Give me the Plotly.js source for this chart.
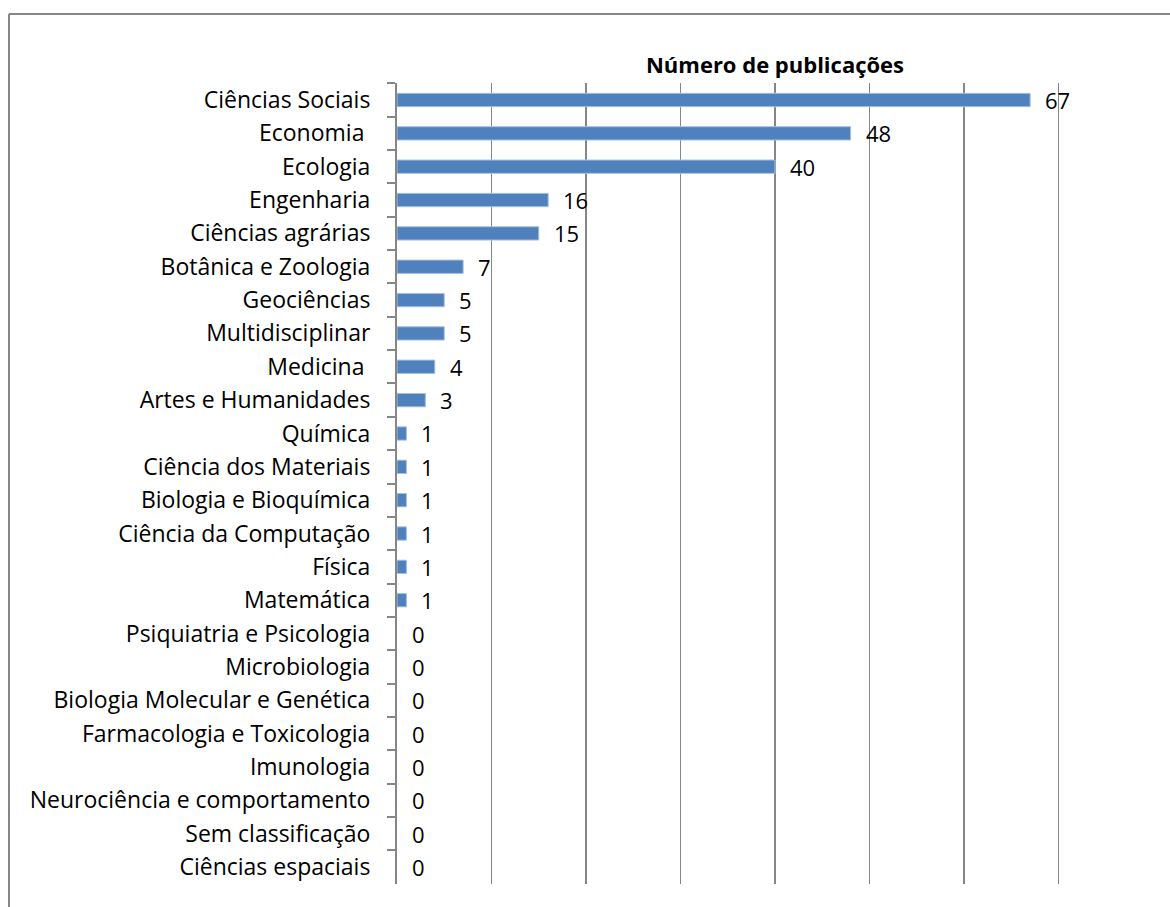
<!DOCTYPE html>
<html>
<head>
<meta charset="utf-8">
<script src="https://cdn.plot.ly/plotly-3.0.1.min.js"></script>
<style>
  html, body { margin: 0; padding: 0; background: #fff; }
  #chart { width: 1170px; height: 907px; }
</style>
</head>
<body>
<div id="chart"></div>
<script>
// Publicações por área do conhecimento
const categories = [
  "Ciências Sociais",
  "Economia\u00a0",
  "Ecologia",
  "Engenharia",
  "Ciências agrárias",
  "Botânica e Zoologia",
  "Geociências",
  "Multidisciplinar",
  "Medicina\u00a0",
  "Artes e Humanidades",
  "Química",
  "Ciência dos Materiais",
  "Biologia e Bioquímica",
  "Ciência da Computação",
  "Física",
  "Matemática",
  "Psiquiatria e Psicologia",
  "Microbiologia",
  "Biologia Molecular e Genética",
  "Farmacologia e Toxicologia",
  "Imunologia",
  "Neurociência e comportamento",
  "Sem classificação",
  "Ciências espaciais"
];
const publicacoes = [67, 48, 40, 16, 15, 7, 5, 5, 4, 3, 1, 1, 1, 1, 1, 1, 0, 0, 0, 0, 0, 0, 0, 0];
const chartTitle = "Número de publicações";

const FONT = "'Open Sans', Lato, sans-serif";
const GRID = "#868686";

// plot area in pixels
const W = 1170, H = 907;
const L = 397, R = 1153, T = 83, B = 884;
const pw = R - L, ph = B - T;
const px = v => (v - L) / pw;
const py = v => (B - v) / ph;

const trace = {
  type: "bar",
  orientation: "h",
  x: publicacoes,
  y: categories,
  marker: {
    color: "#4F81BD",
    // light edge only on non-empty bars
    line: { color: "#A9C1E0", width: publicacoes.map(v => (v > 0 ? 1 : 0)) }
  },
  hoverinfo: "x+y"
};

// value labels next to each bar
const labels = publicacoes.map((v, i) => ({
  x: v, y: categories[i], xref: "x", yref: "y",
  text: String(v), showarrow: false,
  xanchor: "left", yanchor: "middle", xshift: 13,
  font: { family: FONT, size: 22, color: "#000" }
}));

const layout = {
  width: W, height: H,
  margin: { l: L, r: W - R, t: T, b: H - B, pad: 0 },
  paper_bgcolor: "#fff", plot_bgcolor: "#fff",
  showlegend: false,
  bargap: 0.6,
  title: {
    text: "<b>" + chartTitle + "</b>",
    x: 0.5, xref: "paper", xanchor: "center",
    y: 1 - 65 / H, yref: "container", yanchor: "middle",
    font: { family: FONT, size: 22, color: "#000" }
  },
  xaxis: {
    range: [0, 80], dtick: 10, tick0: 0,
    showgrid: true, gridcolor: GRID, gridwidth: 1.8,
    showticklabels: false, ticks: "", zeroline: false, showline: false,
    fixedrange: true
  },
  yaxis: {
    autorange: "reversed",
    type: "category",
    tickson: "boundaries",
    ticks: "outside", ticklen: 8, tickwidth: 2, tickcolor: GRID,
    showline: true, linecolor: GRID, linewidth: 2,
    showgrid: false, zeroline: false,
    ticklabelstandoff: 20,
    tickfont: { family: FONT, size: 23, color: "#000" },
    fixedrange: true
  },
  annotations: labels,
  shapes: [
    // outer frame, top and left edges
    { type: "line", xref: "paper", yref: "paper", x0: px(9), x1: px(W + 5), y0: py(14), y1: py(14),
      line: { color: "#868686", width: 2 } },
    { type: "line", xref: "paper", yref: "paper", x0: px(9), x1: px(9), y0: py(14), y1: py(H + 5),
      line: { color: "#868686", width: 2 } }
  ]
};

Plotly.newPlot("chart", [trace], layout, { displayModeBar: false, staticPlot: true });
</script>
</body>
</html>
